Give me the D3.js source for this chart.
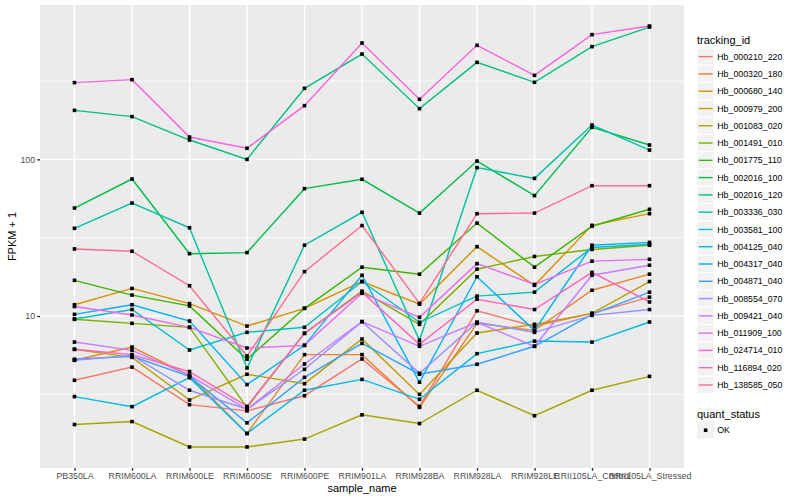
<!DOCTYPE html>
<html>
<head>
<meta charset="utf-8">
<script src="https://cdn.jsdelivr.net/npm/d3@7"></script>
<style>
  body { margin: 0; background: #fff; }
  text { font-family: "Liberation Sans", Arial, Helvetica, sans-serif; }
</style>
</head>
<body>
<svg id="chart" width="800" height="500"></svg>
<script>
const samples = ["PB350LA", "RRIM600LA", "RRIM600LE", "RRIM600SE", "RRIM600PE", "RRIM901LA",
    "RRIM928BA", "RRIM928LA", "RRIM928LE", "RRII105LA_Control", "RRII105LA_Stressed"];

const trackingIds = ["Hb_000210_220", "Hb_000320_180", "Hb_000680_140", "Hb_000979_200", "Hb_001083_020",
    "Hb_001491_010", "Hb_001775_110", "Hb_002016_100", "Hb_002016_120", "Hb_003336_030",
    "Hb_003581_100", "Hb_004125_040", "Hb_004317_040", "Hb_004871_040", "Hb_008554_070",
    "Hb_009421_040", "Hb_011909_100", "Hb_024714_010", "Hb_116894_020", "Hb_138585_050"];

// ggplot default hue palette, 20 levels
const trackColours = ["#F8766D", "#EA8331", "#D89000", "#C09B00", "#A3A500", "#7CAE00", "#39B600",
    "#00BB4E", "#00BF7D", "#00C1A3", "#00BFC4", "#00BAE0", "#00B0F6", "#35A2FF", "#9590FF",
    "#C77CFF", "#E76BF3", "#FA62DB", "#FF62BC", "#FF6C91"];

// FPKM + 1 per tracking id, one value per sample (same order as samples)
const fpkmPlus1 = [
    [3.89, 4.72, 2.72, 2.48, 3.10, 5.32, 2.65, 10.8, 8.60, 10.4, 13.2],        // Hb_000210_220
    [5.22, 6.34, 4.18, 1.78, 5.67, 5.67, 2.61, 8.98, 8.10, 14.6, 18.5],        // Hb_000320_180
    [11.8, 15.0, 12.0, 8.63, 11.2, 16.6, 11.9, 27.7, 15.7, 37.9, 45.0],        // Hb_000680_140
    [6.13, 5.45, 2.91, 4.25, 3.70, 7.13, 3.16, 7.79, 8.85, 10.4, 16.6],        // Hb_000979_200
    [2.03, 2.12, 1.46, 1.46, 1.64, 2.34, 2.06, 3.36, 2.31, 3.36, 4.12],        // Hb_001083_020
    [9.53, 8.98, 8.47, 2.61, 7.75, 14.4, 8.85, 19.9, 24.0, 26.6, 28.3],        // Hb_001491_010
    [16.9, 13.6, 11.6, 5.30, 11.2, 20.5, 18.5, 39.2, 20.5, 37.4, 48.0],        // Hb_001775_110
    [48.9, 74.9, 25.0, 25.4, 65.0, 74.6, 45.4, 97.5, 58.7, 160.1, 123.4],      // Hb_002016_100
    [205.4, 187.3, 132.8, 100.0, 283.9, 469.9, 210.6, 415.9, 310.1, 523.9, 698.7], // Hb_002016_120
    [36.3, 52.6, 36.6, 4.66, 28.3, 45.9, 7.00, 88.5, 75.6, 165.5, 114.6],      // Hb_003336_030
    [9.57, 11.0, 6.07, 7.87, 8.47, 16.6, 9.12, 13.4, 14.2, 27.4, 28.7],        // Hb_003581_100
    [3.06, 2.64, 4.04, 1.78, 3.36, 3.94, 2.94, 5.75, 6.92, 6.82, 9.16],        // Hb_004125_040
    [10.25, 11.8, 9.29, 3.65, 6.50, 18.2, 3.78, 17.8, 8.10, 28.3, 29.5],       // Hb_004317_040
    [5.30, 5.53, 4.12, 2.08, 4.06, 6.69, 4.25, 4.92, 6.41, 10.25, 14.2],       // Hb_004871_040
    [5.22, 5.61, 3.36, 2.54, 4.57, 9.21, 4.31, 9.12, 7.87, 10.1, 11.0],        // Hb_008554_070
    [6.82, 6.04, 4.18, 2.54, 4.94, 9.21, 6.41, 9.12, 6.41, 18.2, 21.1],        // Hb_009421_040
    [11.5, 10.15, 8.47, 6.25, 6.50, 13.96, 9.81, 21.6, 15.9, 22.4, 23.0],      // Hb_011909_100
    [308.8, 322.6, 138.8, 117.6, 220.1, 552.5, 241.5, 534.1, 343.6, 624.9, 709.1], // Hb_024714_010
    [6.13, 5.67, 4.42, 2.65, 7.75, 14.2, 6.60, 12.8, 11.0, 19.0, 12.3],        // Hb_116894_020
    [26.8, 25.9, 15.6, 5.56, 19.2, 37.8, 12.05, 45.0, 45.4, 67.9, 67.9]        // Hb_138585_050
];

const yTicks = [10, 100];
const yMinorTicks = [3.1623, 31.623, 316.23];
const quantStatus = ["OK"];

const width = 800, height = 500;
const margin = { top: 5, right: 116, bottom: 32, left: 40 };
const panelRight = width - margin.right;
const panelBottom = height - margin.bottom;
const lineW = 1.42;

const svg = d3.select('#chart');

const x = d3.scalePoint()
    .domain(samples)
    .range([margin.left, panelRight])
    .padding(0.6);

const allVals = fpkmPlus1.flat();
const logLo = Math.log10(d3.min(allVals));
const logHi = Math.log10(d3.max(allVals));
const logPad = (logHi - logLo) * 0.05;
const y = d3.scaleLog()
    .domain([Math.pow(10, logLo - logPad), Math.pow(10, logHi + logPad)])
    .range([panelBottom, margin.top]);

// panel background and grid
svg.append('rect')
    .attr('x', margin.left)
    .attr('y', margin.top)
    .attr('width', panelRight - margin.left)
    .attr('height', panelBottom - margin.top)
    .attr('fill', '#EBEBEB');

svg.append('g').selectAll('line').data(yMinorTicks)
    .join('line')
    .attr('x1', margin.left).attr('x2', panelRight)
    .attr('y1', d => y(d)).attr('y2', d => y(d))
    .attr('stroke', '#fff').attr('stroke-width', lineW / 2);

svg.append('g').selectAll('line').data(yTicks)
    .join('line')
    .attr('x1', margin.left).attr('x2', panelRight)
    .attr('y1', d => y(d)).attr('y2', d => y(d))
    .attr('stroke', '#fff').attr('stroke-width', lineW);

svg.append('g').selectAll('line').data(samples)
    .join('line')
    .attr('x1', d => x(d)).attr('x2', d => x(d))
    .attr('y1', margin.top).attr('y2', panelBottom)
    .attr('stroke', '#fff').attr('stroke-width', lineW);

// lines
const line = d3.line()
    .x((d, i) => x(samples[i]))
    .y(d => y(d));

svg.append('g').selectAll('path').data(fpkmPlus1)
    .join('path')
    .attr('d', line)
    .attr('fill', 'none')
    .attr('stroke', (d, i) => trackColours[i])
    .attr('stroke-width', lineW);

// points
const ptSize = 3.6;
const pointsG = svg.append('g');
fpkmPlus1.forEach(series => {
    pointsG.selectAll(null).data(series)
        .join('rect')
        .attr('x', (d, i) => x(samples[i]) - ptSize / 2)
        .attr('y', d => y(d) - ptSize / 2)
        .attr('width', ptSize)
        .attr('height', ptSize)
        .attr('fill', '#000');
});

// axes
const yAxis = svg.append('g')
    .attr('transform', `translate(${margin.left},0)`)
    .call(d3.axisLeft(y).tickValues(yTicks).tickFormat(d3.format('d')).tickSize(2.75).tickPadding(2.2));

const xAxis = svg.append('g')
    .attr('transform', `translate(0,${panelBottom})`)
    .call(d3.axisBottom(x).tickSize(2.75).tickPadding(2.2));

[yAxis, xAxis].forEach(ax => {
    ax.select('.domain').remove();
    ax.selectAll('.tick line').attr('stroke', '#333333').attr('stroke-width', lineW);
    ax.selectAll('.tick text')
        .attr('fill', '#4D4D4D')
        .style('font-size', '8.8px')
        .style('font-family', '"Liberation Sans", Arial, sans-serif');
});

svg.append('text')
    .attr('x', (margin.left + panelRight) / 2)
    .attr('y', 492)
    .attr('text-anchor', 'middle')
    .style('font-size', '11px')
    .text('sample_name');

svg.append('text')
    .attr('transform', `translate(16,${(margin.top + panelBottom) / 2}) rotate(-90)`)
    .attr('text-anchor', 'middle')
    .style('font-size', '11px')
    .text('FPKM + 1');

// legend: tracking_id
const legX = 697;
const keySize = 17.28;
const legTop = 48;

svg.append('text')
    .attr('x', legX)
    .attr('y', 44)
    .style('font-size', '11px')
    .text('tracking_id');

const keys = svg.append('g').selectAll('g').data(trackingIds)
    .join('g')
    .attr('transform', (d, i) => `translate(${legX},${legTop + i * keySize})`);

keys.append('rect')
    .attr('width', keySize)
    .attr('height', keySize)
    .attr('fill', '#F2F2F2')
    .attr('stroke', '#fff')
    .attr('stroke-width', 1);

keys.append('line')
    .attr('x1', 1.7).attr('x2', keySize - 1.7)
    .attr('y1', keySize / 2).attr('y2', keySize / 2)
    .attr('stroke', (d, i) => trackColours[i])
    .attr('stroke-width', lineW);

keys.append('text')
    .attr('x', keySize + 3)
    .attr('y', keySize / 2)
    .attr('dy', '0.35em')
    .style('font-size', '8.8px')
    .text(d => d);

// legend: quant_status
const qTop = legTop + trackingIds.length * keySize + 28;

svg.append('text')
    .attr('x', legX)
    .attr('y', qTop - 4)
    .style('font-size', '11px')
    .text('quant_status');

const qKeys = svg.append('g').selectAll('g').data(quantStatus)
    .join('g')
    .attr('transform', (d, i) => `translate(${legX},${qTop + i * keySize})`);

qKeys.append('rect')
    .attr('width', keySize)
    .attr('height', keySize)
    .attr('fill', '#F2F2F2');

qKeys.append('rect')
    .attr('x', keySize / 2 - ptSize / 2)
    .attr('y', keySize / 2 - ptSize / 2)
    .attr('width', ptSize)
    .attr('height', ptSize)
    .attr('fill', '#000');

qKeys.append('text')
    .attr('x', keySize + 3)
    .attr('y', keySize / 2)
    .attr('dy', '0.35em')
    .style('font-size', '8.8px')
    .text(d => d);
</script>
</body>
</html>
